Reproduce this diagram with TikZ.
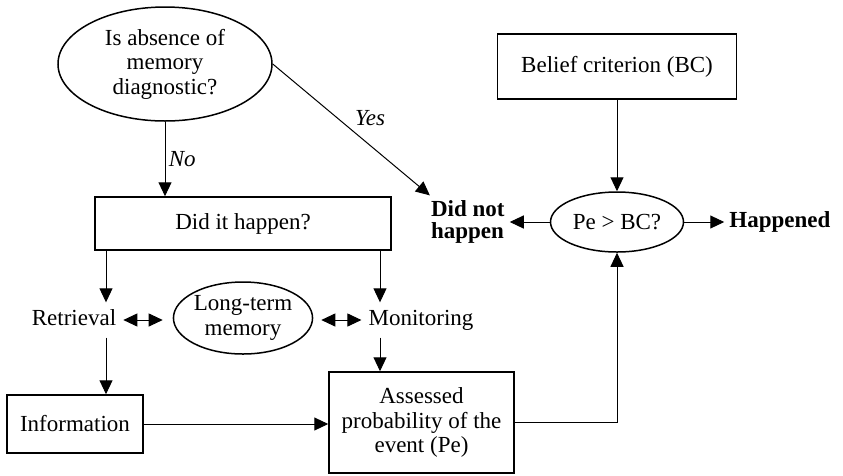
\documentclass[tikz,border=0pt]{standalone}
\usepackage{fontspec}
\setmainfont{Liberation Serif}
\usetikzlibrary{shapes.geometric, arrows.meta, positioning}

\begin{document}
\begin{tikzpicture}[
        x=1pt, y=-1pt,
        >={Triangle[length=14pt,width=13pt]},
        font=\fontsize{23}{24.5}\selectfont,
        box/.style={draw, rectangle, line width=1.5pt, align=center, inner sep=0pt},
        oval/.style={draw, ellipse, line width=1.5pt, align=center, inner sep=0pt},
        txt/.style={inner sep=7pt, text height=16pt, text depth=5pt},
        verdict/.style={font=\fontsize{23}{22}\selectfont\bfseries, align=left, inner sep=5pt},
        link/.style={->, line width=1pt},
    ]
    \useasboundingbox (0,0) rectangle (843,475);

    % Nodes
    \node[oval, minimum width=214pt, minimum height=114pt] (absence) at (165,64) {Is absence of \\ memory \\ diagnostic?};
    \node[box, minimum width=296pt, minimum height=53pt] (happen) at (243,223.5) {Did it happen?};
    \node[txt] (retrieval) at (74,320) {Retrieval};
    \node[oval, minimum width=136pt, minimum height=72pt] (memory) at (243,318) {Long-term \\ memory};
    \node[txt] (monitoring) at (421,320) {Monitoring};
    \node[box, minimum width=136pt, minimum height=58pt] (information) at (75,424) {Information};
    \node[box, minimum width=185pt, minimum height=101pt] (assessed) at (421.5,422.5) {Assessed \\ probability of the \\ event (Pe)};

    \node[box, minimum width=239pt, minimum height=65pt] (belief) at (617,66.5) {Belief criterion (BC)};
    \node[oval, minimum width=133pt, minimum height=60pt] (compare) at (617,222) {Pe > BC?};
    \node[verdict, left=40pt of compare] (notHappened) {Did not \\ happen};
    \node[verdict, right=40pt of compare] (happened) {Happened};

    \coordinate (leftrail) at (106,0);
    \coordinate (midrail) at (380,0);

    % Edges
    \draw[link] (absence.south) -- node[right, font=\fontsize{23}{24.5}\selectfont\itshape] {No} (happen.north -| absence.south);
    \draw[link] (absence.east) -- node[above right, font=\fontsize{23}{24.5}\selectfont\itshape] {Yes} ([xshift=4pt]notHappened.north west);

    \draw[link] (happen.south -| leftrail) -- (retrieval.north -| leftrail);
    \draw[link] (happen.south -| midrail) -- (monitoring.north -| midrail);
    \draw[<->, line width=1pt, shorten >=10pt] (retrieval.east) -- (retrieval.east -| memory.west);
    \draw[<->, line width=1pt, shorten <=8pt] (memory.east |- monitoring.west) -- (monitoring.west);
    \draw[link] (retrieval.south -| leftrail) -- (information.north -| leftrail);
    \draw[link] (monitoring.south -| midrail) -- (assessed.north -| midrail);
    \draw[link] (information.east) -- (information.east -| assessed.west);

    \draw[link] (assessed.east) -| (compare.south);
    \draw[link] (belief.south) -- (compare.north);
    \draw[link] (compare.west) -- (notHappened.east);
    \draw[link] (compare.east) -- (happened.west);

\end{tikzpicture}
\end{document}
